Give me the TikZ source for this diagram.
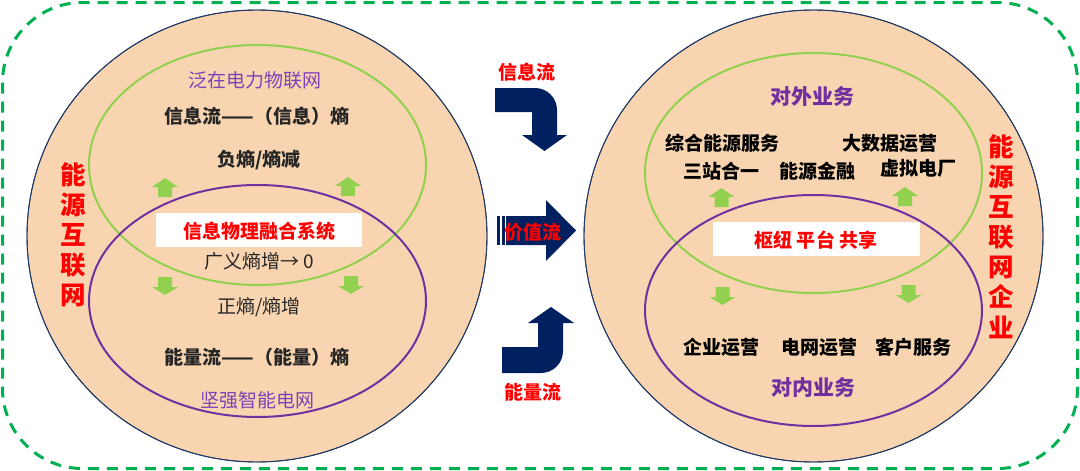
\documentclass[tikz,border=0pt]{standalone}
\usepackage{fontspec}
\newfontfamily\cjk{Noto Sans CJK SC}
\definecolor{peach}{HTML}{F8D5B0}
\definecolor{navyline}{HTML}{1F3864}
\definecolor{navy}{HTML}{002060}
\definecolor{lgreen}{HTML}{92D050}
\definecolor{dgreen}{HTML}{00B050}
\definecolor{purp}{HTML}{7030A0}
\definecolor{lpurp}{HTML}{8040B8}
\definecolor{darktxt}{HTML}{262626}
\definecolor{red}{HTML}{FF0000}
\tikzset{
  bigcircle/.style={fill=peach, draw=navyline, line width=0.9pt},
  gell/.style={draw=lgreen, line width=2pt},
  pell/.style={draw=purp, line width=2pt},
  wbox/.style={fill=white, draw=none},
  txt/.style={inner sep=0pt, font=\cjk\fontsize{19}{22}\selectfont, text=darktxt},
  btxt/.style={txt, font=\cjk\bfseries\fontsize{19}{22}\selectfont},
  rtxt/.style={btxt, text=black},
  redtxt/.style={btxt, text=red},
  plabel/.style={txt, text=lpurp},
  pbold/.style={inner sep=0pt, font=\cjk\bfseries\fontsize{21}{25}\selectfont, text=purp},
  vtxt/.style={inner sep=0pt, align=center, text=red, font=\cjk\bfseries\fontsize{25.5}{30.1}\selectfont},
  flow/.style={fill=navy},
  pics/gup/.style={code={\fill[lgreen] (-13,9) -- (0,0) -- (13,9) -- (7,9) -- (7,19) -- (-7,19) -- (-7,9) -- cycle;}},
  pics/gdown/.style={code={\fill[lgreen] (-7,0) -- (7,0) -- (7,10) -- (13,10) -- (0,18) -- (-13,10) -- (-7,10) -- cycle;}},
}
\begin{document}
\begin{tikzpicture}[x=1pt, y=-1pt]
\useasboundingbox (0,0) rectangle (1080,471);
% outer dashed frame
\draw[dgreen, line width=3pt, dash pattern=on 11pt off 8pt, rounded corners=80pt] (2.5,2.5) rectangle (1077.5,468.5);

% ---------- left circle ----------
\fill[bigcircle] (257,236) ellipse [x radius=230pt, y radius=226pt];
\draw[gell] (257.5,165) ellipse [x radius=168.5pt, y radius=120pt];
\draw[pell] (257.5,301) ellipse [x radius=168.5pt, y radius=116pt];
\draw[bigcircle, fill=none] (257,236) ellipse [x radius=230pt, y radius=226pt];
\node[wbox, minimum width=206pt, minimum height=34pt] (lbox) at (259,230) {};
\node[redtxt] (cps) at (259,231) {信息物理融合系统};
\node[plabel] (ubiq) at (255,80) {泛在电力物联网};
\node[btxt] (infoent) at (257,116) {信息流——（信息）熵};
\node[btxt] (negent) at (259,160) {负熵/熵减};
\node[txt] (gen) at (259,261) {广义熵增→ 0};
\node[txt] (posent) at (259,307) {正熵/熵增};
\node[btxt] (enent) at (257,357) {能量流——（能量）熵};
\node[plabel] (smart) at (257.5,400) {坚强智能电网};
\node[vtxt] (lvert) at (73.5,235) {能\\源\\互\\联\\网};
\pic at (165,178) {gup};
\pic at (348,177) {gup};
\pic at (165,277) {gdown};
\pic at (351,276) {gdown};

% ---------- right circle ----------
\fill[bigcircle] (813.5,236) ellipse [x radius=229.5pt, y radius=226pt];
\draw[gell] (813.5,173) ellipse [x radius=168.5pt, y radius=120pt];
\draw[pell] (813.5,310.5) ellipse [x radius=168.5pt, y radius=115.5pt];
\draw[bigcircle, fill=none] (813.5,236) ellipse [x radius=229.5pt, y radius=226pt];
\node[wbox, minimum width=207pt, minimum height=34pt] (rbox) at (816.5,239) {};
\node[redtxt] (hub) at (816,240) {枢纽 平台 共享};
\node[pbold] (ext) at (812,97) {对外业务};
\node[rtxt] (ies) at (722.5,143) {综合能源服务};
\node[rtxt] (bigd) at (889.5,143) {大数据运营};
\node[rtxt] (three) at (721.5,171) {三站合一};
\node[rtxt] (fin) at (817,171) {能源金融};
\node[rtxt] (vpp) at (918,168) {虚拟电厂};
\node[rtxt] (ent) at (721.5,347) {企业运营};
\node[rtxt] (grid) at (819,347) {电网运营};
\node[rtxt] (cust) at (913.5,347) {客户服务};
\node[pbold] (int) at (813.8,388) {对内业务};
\node[vtxt] (rvert) at (1001,236.5) {能\\源\\互\\联\\网\\企\\业};
\pic at (721.5,188) {gup};
\pic at (905,187) {gup};
\pic at (722.5,287) {gdown};
\pic at (908.5,285) {gdown};

% ---------- middle flow arrows ----------
\fill[flow] (495,88) -- (535,88) arc[start angle=90, end angle=0, radius=22pt] -- (557,135) -- (567,135) -- (544.5,151) -- (522,135) -- (532,135) -- (532,112) -- (495,112) -- cycle;
\node[redtxt] (infoflow) at (527,72) {信息流};

\fill[flow] (497,216) rectangle (499.5,245);
\fill[flow] (501.5,216) rectangle (504.5,245);
\fill[flow] (506,216) -- (546,216) -- (546,200) -- (576,230.5) -- (546,261) -- (546,245) -- (506,245) -- cycle;
\node[redtxt] (valflow) at (533,232) {价值流};

\fill[flow] (502,373) -- (541,373) arc[start angle=-90, end angle=0, radius=22pt] -- (563,323) -- (574,323) -- (551,307) -- (528,323) -- (538,323) -- (538,347) -- (502,347) -- cycle;
\node[redtxt] (enflow) at (533,392) {能量流};
\end{tikzpicture}
\end{document}
